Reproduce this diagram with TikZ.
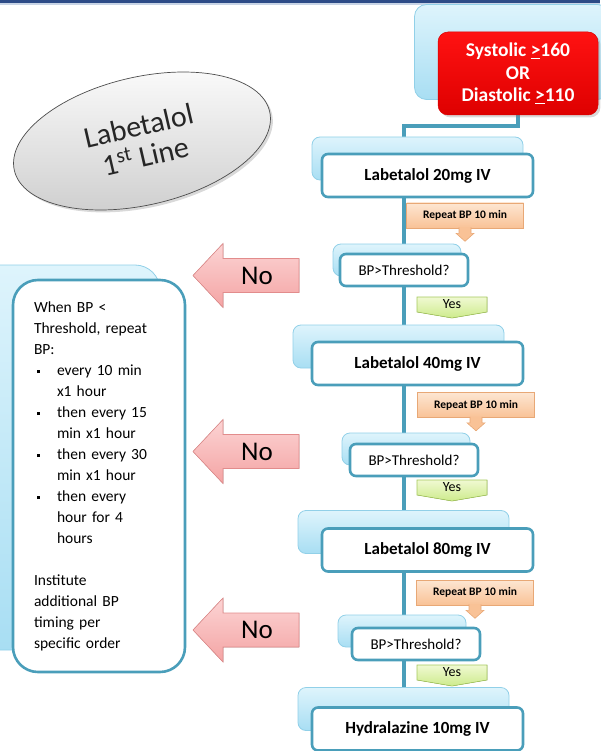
\documentclass[tikz,border=0pt]{standalone}
\usepackage{fontspec}
\setmainfont{Carlito}
\usepackage{tikz}
\usetikzlibrary{calc,shapes.geometric,shadows,backgrounds}
\definecolor{bandblue}{RGB}{45,75,135}
\definecolor{bandlight}{RGB}{200,212,230}
\definecolor{tealline}{RGB}{74,158,186}
\definecolor{backtop}{RGB}{222,244,252}
\definecolor{backbot}{RGB}{168,222,243}
\definecolor{backline}{RGB}{145,208,232}
\definecolor{redtop}{RGB}{255,18,18}
\definecolor{redbot}{RGB}{222,0,0}
\definecolor{peachtop}{RGB}{253,230,210}
\definecolor{peachbot}{RGB}{249,194,150}
\definecolor{peachline}{RGB}{232,168,118}
\definecolor{greentop}{RGB}{240,249,210}
\definecolor{greenbot}{RGB}{205,235,140}
\definecolor{greenline}{RGB}{165,200,92}
\definecolor{pinktop}{RGB}{252,212,212}
\definecolor{pinkbot}{RGB}{244,164,164}
\definecolor{pinkline}{RGB}{226,140,140}
\definecolor{ovaltop}{RGB}{252,252,252}
\definecolor{ovalbot}{RGB}{205,205,205}
\tikzset{
stepbox/.style={draw=tealline,line width=2.6pt,fill=white,rounded corners=6pt,inner sep=0pt},
backbox/.style={draw=backline,line width=0.8pt,top color=backtop,bottom color=backbot,rounded corners=8pt,inner sep=0pt},
drugbox/.style={stepbox,minimum width=211pt,minimum height=43pt,font=\fontsize{17}{18}\selectfont\bfseries},
askbox/.style={stepbox,minimum width=128pt,minimum height=32pt,font=\fontsize{15}{17}\selectfont},
repeatbox/.style={draw=peachline,line width=0.6pt,top color=peachtop,bottom color=peachbot,minimum width=117pt,minimum height=25pt,inner sep=0pt,font=\fontsize{11.5}{13}\selectfont\bfseries},
yesshape/.style={draw=greenline,line width=0.6pt,top color=greentop,bottom color=greenbot},
yestext/.style={font=\fontsize{14}{16}\selectfont,inner sep=0pt},
noshape/.style={draw=pinkline,line width=0.6pt,top color=pinktop,bottom color=pinkbot},
notext/.style={font=\fontsize{27}{30}\selectfont,inner sep=0pt},
conn/.style={draw=tealline,line width=3.5pt}
}
\begin{document}
\begin{tikzpicture}[x=1pt,y=-1pt]
\useasboundingbox (0,0) rectangle (600,751);
\fill[bandblue] (0,0) rectangle (600,3.5);
\fill[bandlight] (0,3.5) rectangle (600,5);

\node[ellipse,draw=gray!60!black,line width=0.7pt,top color=ovaltop,bottom color=ovalbot,drop shadow={opacity=0.3},minimum width=262pt,minimum height=128pt,rotate=13,align=center,font=\fontsize{30}{31}\selectfont,text=black!85] (first) at (142,141) {Labetalol\\1\textsuperscript{st} Line};

\node[backbox,minimum width=195pt,minimum height=95pt,rounded corners=12pt] (sys-back) at (512,52) {};
\node[draw=red!85!black,line width=0.5pt,top color=redtop,bottom color=redbot,rounded corners=10pt,minimum width=160pt,minimum height=83pt,align=center,text=white,font=\fontsize{19.5}{22.5}\selectfont\bfseries,drop shadow={opacity=0.3}] (sys) at (518,73.5) {Systolic \underline{>}160\\OR\\Diastolic \underline{>}110};

\coordinate (spine) at (404,0);

\foreach \nm/\x/\y/\bx/\by/\txt in {lab20/427.5/175.5/417.5/158.5/Labetalol 20mg IV,lab40/417.5/363.5/398.5/346.5/Labetalol 40mg IV,lab80/427.5/550/403.5/532/Labetalol 80mg IV,hyd/417.5/729/403.5/709/Hydralazine 10mg IV}{
\node[backbox,minimum width=211pt,minimum height=43pt] (\nm-back) at (\bx,\by) {};
\node[drugbox] (\nm) at (\x,\y) {\txt};
}
\foreach \nm/\x/\y/\bx/\by in {bp1/404/270/397/260,bp2/414/460/406/449,bp3/416/644/402/631}{
\node[backbox,minimum width=128pt,minimum height=32pt] (\nm-back) at (\bx,\by) {};
\node[askbox] (\nm) at (\x,\y) {BP>Threshold?};
}
\foreach \nm/\x/\y in {rep1/465/215.5,rep2/476/405,rep3/475/592.5}{
\node[repeatbox] (\nm) at (\x,\y) {Repeat BP 10 min};
\filldraw[draw=peachline,line width=0.6pt,fill=peachbot] ($(\nm.south)+(-6,-1)$) -- ++(0,6) -- ++(-3,0) -- ++(9,8) -- ++(9,-8) -- ++(-3,0) -- ++(0,-6);
}
\foreach \nm/\t in {yes1/297,yes2/480,yes3/665}{
\filldraw[yesshape] (417,\t) -- (487,\t) -- (487,\t+15) -- (452,\t+21) -- (417,\t+15) -- cycle;
\node[yestext] (\nm) at (452,\t+7.5) {Yes};
}
\foreach \nm/\c in {no1/275.5,no2/451.5,no3/630}{
\filldraw[noshape] (193,\c) -- (223,\c-32) -- (223,\c-17) -- (299,\c-17) -- (299,\c+17) -- (223,\c+17) -- (223,\c+32) -- cycle;
\node[notext] (\nm) at (257,\c) {No};
}

\node[backbox,minimum width=190pt,minimum height=385pt,rounded corners=25pt] (advice-back) at (65,457.5) {};
\node[stepbox,rounded corners=25pt,minimum width=172pt,minimum height=392pt,text width=130pt,align=left,font=\fontsize{15.5}{21}\selectfont] (advice) at (99,476) {When BP <\\
Threshold, repeat\\
BP:\\
\makebox[23pt][l]{\hspace{3pt}\rule[2pt]{3.5pt}{3.5pt}}every 10 min\\
\hspace*{23pt}x1 hour\\
\makebox[23pt][l]{\hspace{3pt}\rule[2pt]{3.5pt}{3.5pt}}then every 15\\
\hspace*{23pt}min x1 hour\\
\makebox[23pt][l]{\hspace{3pt}\rule[2pt]{3.5pt}{3.5pt}}then every 30\\
\hspace*{23pt}min x1 hour\\
\makebox[23pt][l]{\hspace{3pt}\rule[2pt]{3.5pt}{3.5pt}}then every\\
\hspace*{23pt}hour for 4\\
\hspace*{23pt}hours\\[21pt]
Institute\\
additional BP\\
timing per\\
specific order};

\begin{pgfonlayer}{background}
\draw[conn] (sys.south) -- ++(0,11) -| (hyd.north -| spine);
\end{pgfonlayer}
\end{tikzpicture}
\end{document}
